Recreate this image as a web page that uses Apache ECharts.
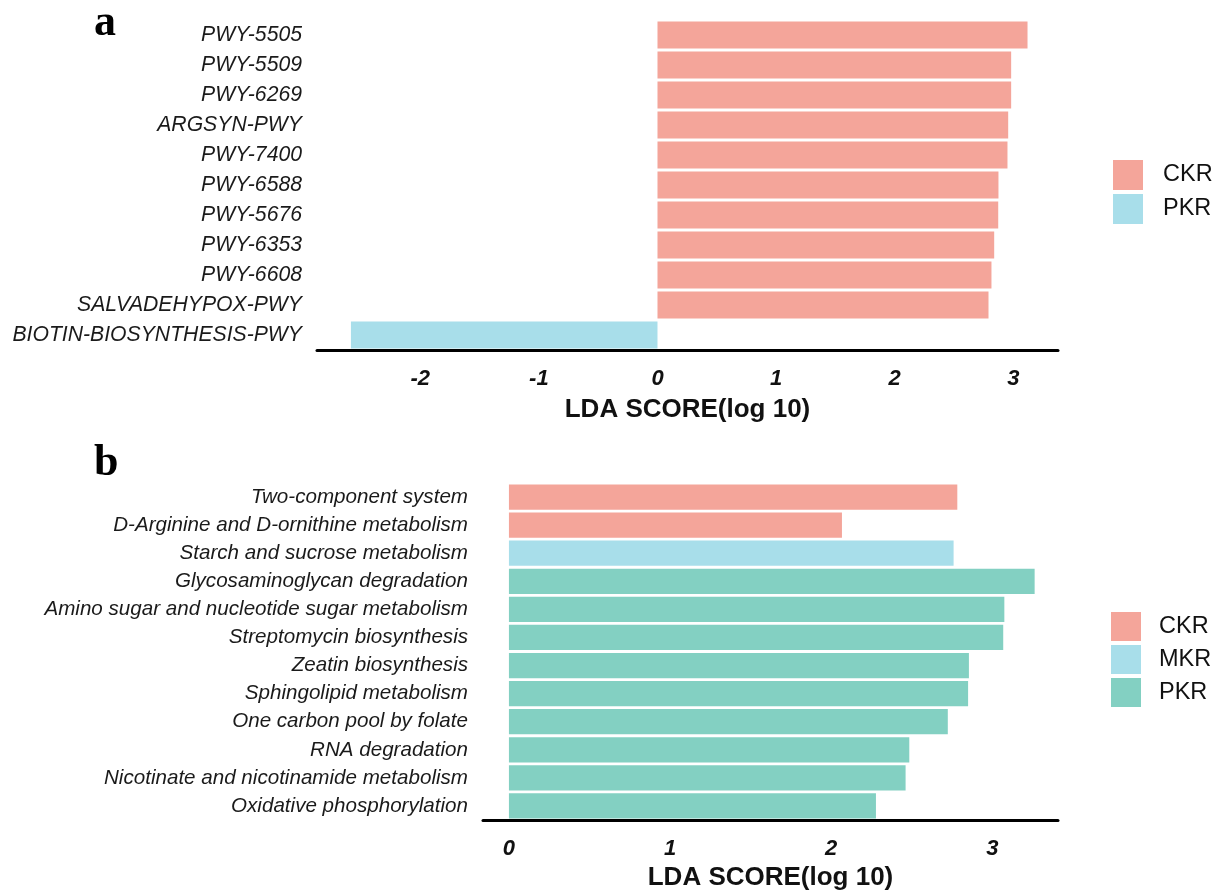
<!DOCTYPE html>
<html>
<head>
<meta charset="utf-8">
<script src="https://cdn.jsdelivr.net/npm/echarts@6/dist/echarts.min.js"></script>
<style>
html,body{margin:0;padding:0;background:#fff;}
#chart{width:1220px;height:892px;}
</style>
</head>
<body>
<div id="chart"></div>
<script>
// Panel a data
const catsA = ['PWY-5505','PWY-5509','PWY-6269','ARGSYN-PWY','PWY-7400','PWY-6588','PWY-5676','PWY-6353','PWY-6608','SALVADEHYPOX-PWY','BIOTIN-BIOSYNTHESIS-PWY'];
const groupA = ['CKR','CKR','CKR','CKR','CKR','CKR','CKR','CKR','CKR','CKR','PKR'];
const valsA = [3.120, 2.982, 2.982, 2.957, 2.951, 2.875, 2.873, 2.839, 2.816, 2.791, -2.585];
const groupsA = ['CKR','PKR'];
const ticksA = [-2, -1, 0, 1, 2, 3];

// Panel b data
const catsB = ['Two-component system','D-Arginine and D-ornithine metabolism','Starch and sucrose metabolism','Glycosaminoglycan degradation','Amino sugar and nucleotide sugar metabolism','Streptomycin biosynthesis','Zeatin biosynthesis','Sphingolipid metabolism','One carbon pool by folate','RNA degradation','Nicotinate and nicotinamide metabolism','Oxidative phosphorylation'];
const groupB = ['CKR','CKR','MKR','PKR','PKR','PKR','PKR','PKR','PKR','PKR','PKR','PKR'];
const valsB = [2.783, 2.067, 2.760, 3.263, 3.075, 3.068, 2.855, 2.850, 2.724, 2.485, 2.462, 2.278];
const groupsB = ['CKR','MKR','PKR'];
const ticksB = [0, 1, 2, 3];

const axisTitle = 'LDA SCORE(log 10)';

const colorsA = {CKR:'#F4A59A', PKR:'#A8DEEA'};
const colorsB = {CKR:'#F4A59A', MKR:'#A8DEEA', PKR:'#83D0C2'};

function makeSeries(cats, groups, vals, glist, colors, idx){
  return glist.map(g => ({
    type:'bar', name:g, xAxisIndex:idx, yAxisIndex:idx,
    barGap:'-100%', barCategoryGap:'10%',
    itemStyle:{color:colors[g]},
    data: cats.map((c,i) => groups[i] === g ? vals[i] : null),
    silent:true, animation:false
  }));
}

function xAxisCfg(idx, min, max, ticks, gap){
  return {
    type:'value', gridIndex:idx, min:min, max:max,
    splitLine:{show:false},
    axisTick:{show:false},
    axisLine:{show:true, onZero:false, lineStyle:{color:'#000', width:3}},
    axisLabel:{customValues:ticks, margin:18, fontSize:22, fontWeight:'bold', fontStyle:'italic',
      color:'#111', fontFamily:'Liberation Sans Narrow, Liberation Sans, Arial, sans-serif',
      formatter: v => String(Math.round(v))},
    name:axisTitle, nameLocation:'middle', nameGap:gap,
    nameTextStyle:{fontSize:26, fontWeight:'bold', color:'#111', fontFamily:'Liberation Sans, Arial, sans-serif'}
  };
}
function yAxisCfg(idx, cats, fs){
  return {
    type:'category', gridIndex:idx, data:cats, inverse:true,
    axisLine:{show:false}, axisTick:{show:false}, splitLine:{show:false},
    axisLabel:{margin:15, fontSize:fs, fontStyle:'italic', color:'#1a1a1a',
      fontFamily:'Liberation Sans, Arial, sans-serif'}
  };
}

const chart = echarts.init(document.getElementById('chart'), null, {renderer:'canvas'});
chart.setOption({
  backgroundColor:'#fff',
  animation:false,
  title:[
    {text:'a', left:89, top:-3, textStyle:{fontFamily:'Liberation Serif, Times New Roman, serif', fontWeight:'bold', fontSize:44, color:'#000'}},
    {text:'b', left:89, top:437, textStyle:{fontFamily:'Liberation Serif, Times New Roman, serif', fontWeight:'bold', fontSize:44, color:'#000'}}
  ],
  grid:[
    {left:317, top:20, width:741, height:330},
    {left:483, top:483, width:575, height:337}
  ],
  xAxis:[xAxisCfg(0, -2.871, 3.377, ticksA, 47), xAxisCfg(1, -0.161, 3.408, ticksB, 45)],
  yAxis:[yAxisCfg(0, catsA, 21.2), yAxisCfg(1, catsB, 20.6)],
  legend:[
    {orient:'vertical', left:1108, top:155, itemWidth:30, itemHeight:30, itemGap:4, selectedMode:false,
     icon:'rect',
     data: groupsA.map(g => ({name:g, itemStyle:{color:colorsA[g]}})),
     textStyle:{fontSize:23.5, color:'#111', padding:[0,0,0,15], fontFamily:'Liberation Sans, Arial, sans-serif'}},
    {orient:'vertical', left:1106, top:607, itemWidth:30, itemHeight:29, itemGap:4, selectedMode:false,
     icon:'rect',
     data: groupsB.map(g => ({name:g, itemStyle:{color:colorsB[g]}})),
     textStyle:{fontSize:23.5, color:'#111', padding:[0,0,0,13], fontFamily:'Liberation Sans, Arial, sans-serif'}}
  ],
  series:[].concat(
    makeSeries(catsA, groupA, valsA, groupsA, colorsA, 0),
    makeSeries(catsB, groupB, valsB, groupsB, colorsB, 1)
  )
});
</script>
</body>
</html>
